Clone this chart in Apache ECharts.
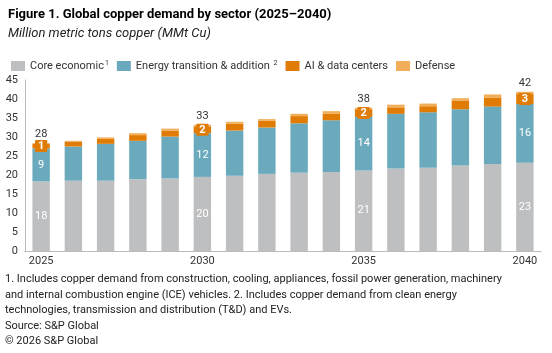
<!DOCTYPE html>
<html>
<head>
<meta charset="utf-8">
<script src="https://cdn.jsdelivr.net/npm/echarts@6/dist/echarts.min.js"></script>
<style>
  html, body { margin: 0; padding: 0; background: #fff; }
  #chart { width: 552px; height: 353px; }
</style>
</head>
<body>
<div id="chart"></div>
<script>
  // years on the x axis
  const years = ['2025', '2026', '2027', '2028', '2029', '2030', '2031', '2032',
    '2033', '2034', '2035', '2036', '2037', '2038', '2039', '2040']
  // MMt Cu
  const coreEconomic = [18.3, 18.5, 18.5, 18.9, 19.1, 19.5, 19.8, 20.3, 20.6, 20.8, 21.2, 21.7, 21.9, 22.5, 22.9, 23.2]
  const energyTransition = [8.7, 9.0, 9.7, 10.1, 11.0, 11.5, 11.9, 12.2, 13.0, 13.6, 14.1, 14.4, 14.6, 14.8, 15.1, 15.5]
  const aiDataCenters = [1.2, 1.3, 1.3, 1.5, 1.6, 1.8, 1.8, 1.8, 1.9, 1.7, 2.0, 1.7, 1.6, 2.3, 2.4, 2.6]
  const defense = [0.2, 0.2, 0.4, 0.5, 0.5, 0.4, 0.5, 0.4, 0.6, 0.7, 0.4, 0.7, 0.7, 0.6, 0.8, 0.6]
  const labelled = [0, 5, 10, 15]
  const yTicks = [0, 45, 5] // min, max, step

  const C_GREY = '#bebfc1'
  const C_TEAL = '#6aaabc'
  const C_ORANGE = '#e07c06'
  const C_LIGHT = '#f2ad58'
  const FONT = 'Roboto'

  const myChart = echarts.init(document.getElementById('chart'))

  const totals = years.map((y, i) => coreEconomic[i] + energyTransition[i] + aiDataCenters[i] + defense[i])

  // data items with labels only on every fifth year
  function withLabels(values, labelOpt) {
    return values.map((v, i) => ({
      value: v,
      label: labelled.includes(i) ? Object.assign({ show: true }, labelOpt) : { show: false }
    }))
  }

  const insideLabel = {
    position: 'inside',
    color: '#fff',
    fontFamily: FONT,
    fontSize: 11,
    formatter: p => Math.round(p.value)
  }

  const seriesData = [
    {
      name: 'Core economic',
      color: C_GREY,
      data: withLabels(coreEconomic, insideLabel)
    },
    {
      name: 'Energy transition & addition',
      color: C_TEAL,
      data: withLabels(energyTransition, insideLabel)
    },
    {
      name: 'AI & data centers',
      color: C_ORANGE,
      data: withLabels(aiDataCenters, Object.assign({}, insideLabel, {
        backgroundColor: C_ORANGE,
        padding: [1, 3, 0, 3],
        borderRadius: 1,
        fontWeight: 'bold'
      }))
    },
    {
      name: 'Defense',
      color: C_LIGHT,
      data: withLabels(defense, {
        position: 'top',
        distance: 3,
        color: '#333',
        fontFamily: FONT,
        fontSize: 11,
        formatter: p => Math.round(totals[p.dataIndex])
      })
    }
  ].map(s => ({
    name: s.name,
    type: 'bar',
    stack: 'total',
    barWidth: '54%',
    itemStyle: { color: s.color },
    emphasis: { disabled: true },
    data: s.data
  }))

  const footnotes = [
    '1. Includes copper demand from construction, cooling, appliances, fossil power generation, machinery',
    'and internal combustion engine (ICE) vehicles. 2. Includes copper demand from clean energy',
    'technologies, transmission and distribution (T&D) and EVs.',
    'Source: S&P Global',
    '\u00a9 2026 S&P Global'
  ]

  myChart.setOption({
    animation: false,
    textStyle: { fontFamily: FONT },
    title: {
      text: 'Figure 1. Global copper demand by sector (2025\u20132040)',
      subtext: 'Million metric tons copper (MMt Cu)',
      left: 3,
      top: 3,
      itemGap: 6,
      textStyle: { fontFamily: FONT, fontSize: 13, fontWeight: 'bold', color: '#000' },
      subtextStyle: { fontFamily: FONT, fontSize: 13, fontStyle: 'italic', color: '#222' }
    },
    legend: {
      left: 6,
      top: 55,
      itemWidth: 14,
      itemHeight: 10,
      itemGap: 8,
      icon: 'rect',
      selectedMode: false,
      formatter: name => {
        if (name === 'Core economic') return '{t|' + name + '}{s|1}'
        if (name === 'Energy transition & addition') return '{t|' + name + ' }{s|2}'
        return '{t|' + name + '}'
      },
      textStyle: {
        fontFamily: FONT,
        fontSize: 11,
        color: '#333',
        rich: {
          t: { fontFamily: FONT, fontSize: 11, color: '#333' },
          s: { fontFamily: FONT, fontSize: 7, color: '#333', verticalAlign: 'top', padding: [0, 0, 5, 1] }
        }
      }
    },
    grid: {
      left: 25,
      right: 11,
      top: 80,
      bottom: 102
    },
    xAxis: {
      type: 'category',
      data: years,
      axisTick: { show: false },
      axisLine: { lineStyle: { color: '#bbb' } },
      axisLabel: {
        interval: 4,
        color: '#333',
        fontFamily: FONT,
        fontSize: 11,
        margin: 5
      }
    },
    yAxis: {
      type: 'value',
      min: yTicks[0],
      max: yTicks[1],
      interval: yTicks[2],
      axisLine: { show: true, lineStyle: { color: '#bbb' } },
      axisTick: { show: false },
      splitLine: { show: false },
      axisLabel: {
        color: '#333',
        fontFamily: FONT,
        fontSize: 11,
        margin: 7
      }
    },
    graphic: footnotes.map((t, i) => ({
      type: 'text',
      left: 5,
      top: 274 + i * 15.5,
      style: { text: t, fill: '#222', font: '11px ' + FONT }
    })),
    series: seriesData
  })

  window.addEventListener('resize', () => {
    myChart && myChart.resize()
  })
</script>
</body>
</html>
